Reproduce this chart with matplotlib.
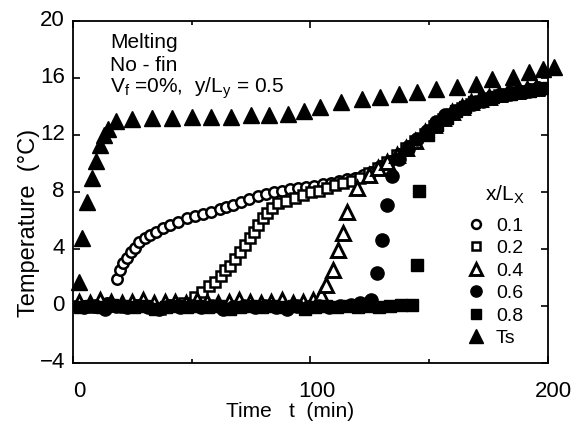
import numpy as np
import matplotlib
matplotlib.use('Agg')
import matplotlib.pyplot as plt
import matplotlib.transforms as mtransforms

plt.rcParams['font.family'] = ['Liberation Sans', 'DejaVu Sans']
plt.rcParams['mathtext.fontset'] = 'custom'
plt.rcParams['mathtext.rm'] = 'Liberation Sans'

# x/Lx = 0.1  (open circles)
t01 = [2.5, 6.4, 10.3, 14.2, 18.5, 19.8, 21.1, 22.6, 24.3, 26.0, 27.9, 30.3, 32.4, 35.1,
       37.7, 40.6, 44.1, 47.8, 51.4, 54.9, 58.2, 61.7, 64.6, 67.5, 70.9, 74.3, 77.7,
       81.1, 84.6, 88.0, 91.4, 94.8, 98.2, 101.7, 105.1, 108.5, 111.9, 115.3, 118.8,
       122.2, 125.6, 129.5, 133.4, 137.3, 141.2, 145.1, 149.1, 153.0, 156.9, 160.8,
       164.7, 168.6, 172.5, 176.4, 180.3, 184.2, 188.1, 192.0, 195.9]
T01 = [0.1, 0.0, 0.1, 0.2, 1.9, 2.5, 3.0, 3.4, 3.8, 4.1, 4.5, 4.8, 5.0, 5.2, 5.5,
       5.7, 5.9, 6.2, 6.3, 6.45, 6.6, 6.8, 6.95, 7.1, 7.3, 7.5, 7.7, 7.85,
       8.0, 8.1, 8.2, 8.3, 8.35, 8.45, 8.55, 8.65, 8.8, 8.9, 9.0, 9.2,
       9.4, 9.8, 10.2, 10.7, 11.2, 11.7, 12.2, 12.7, 13.2, 13.6, 14.0, 14.3, 14.5,
       14.7, 14.8, 15.0, 15.1, 15.2, 15.35]

# x/Lx = 0.2  (open squares)
t02 = [2.5, 7.4, 12.3, 17.2, 22.0, 26.9, 31.8, 36.7, 41.6, 46.5, 51.4, 54.3, 57.2,
       59.7, 62.1, 64.1, 66.0, 68.0, 70.3, 72.4, 74.5, 76.3, 78.0, 79.9, 81.8, 84.0,
       86.5, 89.9, 93.4, 96.8, 100.2, 103.6, 107.0, 110.5, 113.9, 117.3, 120.7, 124.6,
       128.5, 132.4, 136.3, 140.3, 144.2, 148.1, 152.0, 155.9, 159.8, 163.7, 167.6,
       171.5, 175.4, 179.3, 183.2, 187.2, 191.1, 195.0, 199.4]
T02 = [0.0, -0.1, 0.1, 0.0, -0.1, 0.1, 0.0, -0.2, 0.1, 0.2, 0.6, 1.0, 1.4, 1.7, 2.1,
       2.5, 2.8, 3.3, 3.8, 4.3, 4.8, 5.2, 5.7, 6.2, 6.5, 6.9, 7.2, 7.4, 7.6, 7.8, 8.0,
       8.1, 8.3, 8.5, 8.6, 8.8, 9.0, 9.3, 9.7, 10.1, 10.6, 11.1, 11.6, 12.1, 12.6, 13.1,
       13.5, 13.9, 14.2, 14.4, 14.6, 14.8, 14.9, 15.0, 15.1, 15.2, 15.3]

# x/Lx = 0.4  (open triangles)
t04 = [2.5, 7, 11.5, 16, 20.5, 25, 29.5, 34, 38.5, 43, 47.5, 52, 56.5, 61, 65.5, 70,
       74.5, 79, 83.5, 88, 92.5, 97, 101.2, 104.6, 106.5, 109.5, 111.5, 113.5, 115.6,
       119.4, 124.8, 128.5, 132.4, 136.3, 140.3, 144.2, 148.1, 152.0, 155.9, 159.8,
       163.7, 167.6, 171.5, 175.4, 179.3, 183.2, 187.2, 191.1, 195.0]
T04 = [0.3, 0.2, 0.4, 0.3, 0.2, 0.3, 0.4, 0.2, 0.3, 0.3, 0.2, 0.4, 0.3, 0.2, 0.3, 0.4,
       0.3, 0.2, 0.3, 0.4, 0.2, 0.3, 0.4, 0.8, 1.5, 2.5, 3.9, 5.1, 6.6, 8.3, 9.2, 9.7,
       10.1, 10.6, 11.1, 11.6, 12.2, 12.7, 13.2, 13.6, 14.0, 14.3, 14.5, 14.7, 14.9,
       15.0, 15.1, 15.2, 15.3]

# x/Lx = 0.6  (filled circles)
t06 = [4.5, 9, 13.5, 18, 22.5, 27, 31.5, 36, 40.5, 45, 49.5, 54, 58.5, 63, 67.5, 72,
       76.5, 81, 85.5, 90, 94.5, 99, 103.5, 108, 112.5, 117, 121, 125.6, 128.0, 130.1,
       132.2, 134.4, 137.3, 141.2, 145.1, 149.1, 153.0, 156.9, 160.8, 164.7, 168.6,
       172.5, 176.4, 180.3, 184.2, 188.1, 192.0, 195.9]
T06 = [-0.1, 0.0, -0.2, 0.0, -0.1, 0.0, -0.1, -0.2, 0.0, -0.1, 0.0, -0.1, 0.0, -0.2,
       -0.1, 0.0, -0.1, 0.0, -0.1, -0.2, 0.0, -0.1, 0.0, -0.1, 0.0, 0.1, 0.2, 0.4,
       2.3, 4.6, 7.1, 9.1, 10.3, 11.0, 11.7, 12.3, 12.9, 13.4, 13.7, 14.0, 14.2, 14.4,
       14.6, 14.8, 14.9, 15.0, 15.1, 15.2]

# x/Lx = 0.8  (filled squares)
t08 = [3, 7.5, 12, 16.5, 21, 25.5, 30, 34.5, 39, 43.5, 48, 52.5, 57, 61.5, 66, 70.5,
       75, 79.5, 84, 88.5, 93, 97.5, 102, 106.5, 111, 115.5, 120, 124.5, 129, 133.5,
       138, 142.7, 144.7, 145.7, 149.5, 153.4, 157.4, 161.3, 165.2, 169.1, 173.0,
       176.9, 180.8, 184.7, 188.6, 192.5, 196.4, 199.9]
T08 = [-0.1, 0.0, -0.1, 0.1, 0.0, -0.1, 0.0, -0.2, -0.1, 0.0, -0.1, 0.0, -0.1, 0.0,
       -0.2, -0.1, 0.0, -0.1, 0.0, -0.1, 0.0, -0.2, -0.1, 0.0, -0.1, 0.0, -0.1, 0.0,
       -0.1, 0.0, 0.1, 0.1, 2.9, 8.1, 12.0, 12.7, 13.2, 13.7, 14.0, 14.3, 14.5, 14.7,
       14.8, 14.9, 15.0, 15.1, 15.2, 15.3]

# Ts  (filled triangles)
ts_t = [2.5, 3.9, 5.9, 7.8, 9.5, 11.3, 12.8, 14.8, 18.1, 25.0, 33.3, 41.6, 49.9, 58.2,
        66.5, 74.8, 82.6, 90.4, 97.3, 104.1, 112.9, 121.7, 129.5, 137.3, 145.1, 153.0,
        161.7, 169.6, 176.4, 185.2, 192.0, 197.9, 202.5]
ts_T = [1.7, 4.8, 7.3, 9.0, 10.2, 11.3, 12.0, 12.4, 13.0, 13.1, 13.2, 13.2, 13.3, 13.3,
        13.3, 13.4, 13.4, 13.5, 13.7, 14.0, 14.3, 14.5, 14.7, 14.9, 15.0, 15.2, 15.4,
        15.6, 15.9, 16.1, 16.4, 16.6, 16.8]

fig = plt.figure(figsize=(5.76, 4.30), dpi=100)
ax = fig.add_axes([0.127, 0.156, 0.824, 0.795])

ax.plot(t01, T01, 'o', ms=7.5, mfc='white', mec='black', mew=1.8, ls='none', label='0.1')
ax.plot(t02, T02, 's', ms=7.5, mfc='white', mec='black', mew=1.8, ls='none', label='0.2')
ax.plot(t04, T04, '^', ms=10, mfc='white', mec='black', mew=2.1, ls='none', label='0.4')
ax.plot(t06, T06, 'o', ms=9.5, mfc='black', mec='black', ls='none', label='0.6')
ax.plot(t08, T08, 's', ms=8, mfc='black', mec='black', ls='none', label='0.8')
ax.plot(ts_t, ts_T, '^', ms=12, mfc='black', mec='black', ls='none', label='Ts',
        clip_on=False)

ax.set_xlim(0, 200)
ax.set_ylim(-4, 20)
ax.set_xticks([0, 100, 200])
ax.set_xticks([50, 150], minor=True)
ax.set_yticks(np.arange(-4, 21, 4))
ax.tick_params(which='both', direction='in', top=True, right=True, width=1.2)
ax.tick_params(which='major', length=5)
ax.tick_params(which='minor', length=3)
ax.tick_params(axis='y', labelsize=16, pad=6)
ax.tick_params(axis='x', labelsize=16, pad=13)
for s in ax.spines.values():
    s.set_linewidth(1.3)

# the scanned tick labels sit a little right / up of their ticks
dx = mtransforms.ScaledTranslation(0.06, 0, fig.dpi_scale_trans)
dy = mtransforms.ScaledTranslation(0, 0.03, fig.dpi_scale_trans)
for tk in ax.xaxis.get_major_ticks():
    tk.label1.set_transform(tk.label1.get_transform() + dx)
for tk in ax.yaxis.get_major_ticks():
    tk.label1.set_transform(tk.label1.get_transform() + dy)

ax.set_xlabel('Time   t  (min)', fontsize=15)
ax.xaxis.set_label_coords(0.457, -0.115)
ax.set_ylabel('Temperature  (°C)', fontsize=17)
ax.yaxis.set_label_coords(-0.069, 0.41)

ax.text(0.078, 0.921, 'Melting', transform=ax.transAxes, fontsize=15)
ax.text(0.078, 0.854, 'No - fin', transform=ax.transAxes, fontsize=15)
ax.text(0.078, 0.792, 'V$_\\mathregular{f}$ =0%,  y/L$_\\mathregular{y}$ = 0.5',
        transform=ax.transAxes, fontsize=15)

ax.text(0.867, 0.491, 'x/L$_\\mathregular{X}$', transform=ax.transAxes, fontsize=15,
        va='center')
ax.legend(loc='upper left', bbox_to_anchor=(0.821, 0.449), frameon=False,
          fontsize=14, handlelength=0.6, handletextpad=0.7, labelspacing=0.25,
          borderaxespad=0, markerscale=0.85)

fig.savefig('out.png', dpi=100)
